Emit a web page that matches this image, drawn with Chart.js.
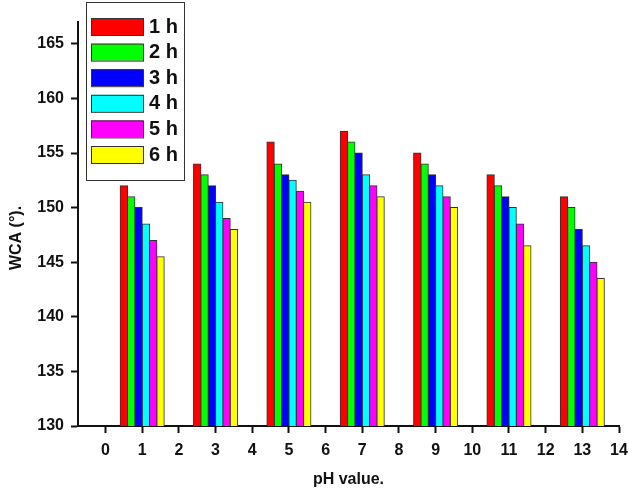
<!DOCTYPE html>
<html>
<head>
<meta charset="utf-8">
<script src="https://cdn.jsdelivr.net/npm/chart.js@4.4.1/dist/chart.umd.min.js"></script>
<style>
  html, body { margin: 0; padding: 0; background: #fff; }
  #wrap { width: 629px; height: 488px; }
</style>
</head>
<body>
<div id="wrap"><canvas id="chart" width="629" height="488"></canvas></div>
<script>
// pH positions of the bar groups
const phValues = [1, 3, 5, 7, 9, 11, 13];

// WCA values per immersion time
const wca1h = [152, 154, 156, 157, 155, 153, 151];
const wca2h = [151, 153, 154, 156, 154, 152, 150];
const wca3h = [150, 152, 153, 155, 153, 151, 148];
const wca4h = [148.5, 150.5, 152.5, 153, 152, 150, 146.5];
const wca5h = [147, 149, 151.5, 152, 151, 148.5, 145];
const wca6h = [145.5, 148, 150.5, 151, 150, 146.5, 143.5];

const seriesLabels = ['1 h', '2 h', '3 h', '4 h', '5 h', '6 h'];
const seriesColors = ['#ff0000', '#00ff00', '#0000ff', '#00ffff', '#ff00ff', '#ffff00'];

const xTicks = [0, 1, 2, 3, 4, 5, 6, 7, 8, 9, 10, 11, 12, 13, 14];
const yTicks = [130, 135, 140, 145, 150, 155, 160, 165];

const FONT = '"Liberation Sans", Arial, sans-serif';

const allSeries = [wca1h, wca2h, wca3h, wca4h, wca5h, wca6h];
// bar ruler uses the 1-unit tick spacing, so a group spans 1.2 units
const datasets = allSeries.map((vals, i) => ({
  label: seriesLabels[i],
  data: vals.map((v, j) => ({ x: phValues[j], y: v })),
  backgroundColor: seriesColors[i],
  borderColor: '#333',
  borderWidth: 1,
  inflateAmount: 0.5,
  categoryPercentage: 1.2,
  barPercentage: 1.0
}));

// legend box inside the plot (top-left) and the rotated y title
const boxLegend = {
  id: 'boxLegend',
  afterDraw(chart) {
    const ctx = chart.ctx;
    ctx.save();
    ctx.strokeStyle = '#333';
    ctx.lineWidth = 1;
    ctx.fillStyle = '#fff';
    ctx.fillRect(86, 2, 98, 178);
    ctx.strokeRect(86.5, 2.5, 98, 178);
    ctx.font = 'bold 20px ' + FONT;
    ctx.textBaseline = 'middle';
    seriesLabels.forEach((lbl, i) => {
      const y = 18 + i * 25.6;
      ctx.fillStyle = seriesColors[i];
      ctx.fillRect(91, y, 52, 17);
      ctx.strokeRect(91.5, y + 0.5, 52, 17);
      ctx.fillStyle = '#111';
      ctx.fillText(lbl, 149, y + 9);
    });

    ctx.translate(17, 238);
    ctx.rotate(-Math.PI / 2);
    ctx.font = 'bold 16px ' + FONT;
    ctx.textAlign = 'center';
    ctx.fillStyle = '#111';
    ctx.fillText('WCA (°).', 0, 0);
    ctx.restore();
  }
};

new Chart(document.getElementById('chart'), {
  type: 'bar',
  data: { datasets },
  options: {
    responsive: false,
    animation: false,
    layout: { padding: { top: 22, right: 10, left: 0, bottom: 0 } },
    plugins: { legend: { display: false }, tooltip: { enabled: false } },
    scales: {
      x: {
        type: 'linear',
        min: -0.75,
        max: 14,
        offset: false,
        afterBuildTicks: s => { s.ticks = xTicks.map(v => ({ value: v })); },
        afterFit: s => { s.height = 62; s.paddingRight = 0; s.paddingLeft = 0; },
        grid: { display: true, drawOnChartArea: false, offset: false, tickLength: 7, tickColor: '#111', tickWidth: 2 },
        border: { display: true, color: '#111', width: 2 },
        ticks: { color: '#111', padding: 8, font: { family: FONT, size: 16, weight: 'bold' }, maxRotation: 0 },
        title: { display: true, text: 'pH value.', color: '#111', padding: { top: -1, bottom: -1 }, font: { family: FONT, size: 16, weight: 'bold' } }
      },
      y: {
        min: 130,
        max: 167,
        afterBuildTicks: s => { s.ticks = yTicks.map(v => ({ value: v })); },
        afterFit: s => { s.width = 78; },
        grid: { display: true, drawOnChartArea: false, tickLength: 7, tickColor: '#111', tickWidth: 2 },
        border: { display: true, color: '#111', width: 2 },
        ticks: { color: '#111', padding: 7, font: { family: FONT, size: 16, weight: 'bold' } }
      }
    }
  },
  plugins: [boxLegend]
});
</script>
</body>
</html>
